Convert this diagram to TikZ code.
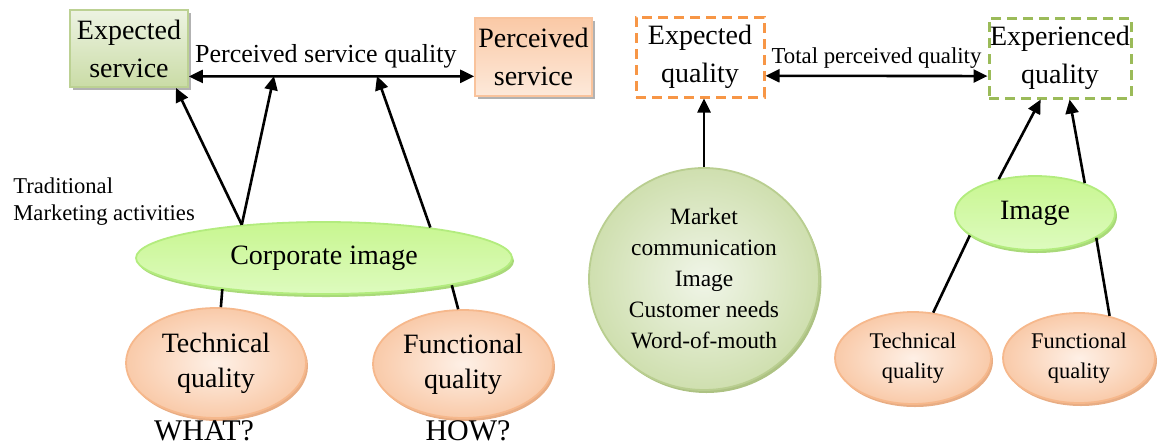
\documentclass[tikz,border=0pt]{standalone}
\usepackage{fontspec}
\setmainfont{Liberation Serif}
\usepackage{tikz}
\usetikzlibrary{positioning,arrows,arrows.meta}
\usetikzlibrary{shapes,shadows,calc}

\definecolor{boxgrnA}{HTML}{EDF3E2}
\definecolor{boxgrnB}{HTML}{CADCA6}
\definecolor{boxgrnL}{HTML}{BCD193}
\definecolor{boxorgA}{HTML}{FAC9A6}
\definecolor{boxorgB}{HTML}{FDE9DA}
\definecolor{boxorgL}{HTML}{F9C39C}
\definecolor{limeA}{HTML}{C8F690}
\definecolor{limeB}{HTML}{DDFBBE}
\definecolor{limeL}{HTML}{B3EC7E}
\definecolor{limeS}{HTML}{A9D979}
\definecolor{ovalA}{HTML}{FEF0E6}
\definecolor{ovalB}{HTML}{F9CAA9}
\definecolor{ovalL}{HTML}{F6B88C}
\definecolor{ovalS}{HTML}{E8AD84}
\definecolor{balA}{HTML}{F0F5E8}
\definecolor{balB}{HTML}{CFDFAF}
\definecolor{balL}{HTML}{B9CE90}
\definecolor{balS}{HTML}{ADC283}
\definecolor{dashorg}{HTML}{F79646}
\definecolor{dashgrn}{HTML}{9BBB59}

\newcommand\bigtxt{\fontsize{14}{19}\selectfont}
\newcommand\midtxt{\fontsize{11.7}{15.5}\selectfont}
\newcommand\smltxt{\fontsize{11.3}{13.5}\selectfont}

\begin{document}
\begin{tikzpicture}[x=0.5pt, y=-0.5pt,
  >={Triangle[length=7pt,width=6.5pt]},
  conn/.style={line width=1.3pt},
  softbox/.style={rectangle, inner sep=0pt, align=center, font=\bigtxt, line width=0.9pt,
    drop shadow={shadow xshift=1.3pt, shadow yshift=-1.3pt, fill=black!30, opacity=1}},
  greenbox/.style={softbox, draw=boxgrnL, top color=boxgrnA, bottom color=boxgrnB},
  orangebox/.style={softbox, draw=boxorgL, top color=boxorgA, bottom color=boxorgB},
  dashbox/.style={rectangle, inner sep=0pt, align=center, font=\bigtxt, line width=1.5pt,
    dash pattern=on 5pt off 3pt},
  limeoval/.style={ellipse, inner sep=0pt, align=center, draw=limeL, line width=0.9pt,
    top color=limeA, bottom color=limeB,
    drop shadow={shadow xshift=1pt, shadow yshift=-1.5pt, fill=limeS, opacity=1}},
  peachoval/.style={ellipse, inner sep=0pt, align=center, draw=ovalL, line width=0.9pt,
    inner color=ovalA, outer color=ovalB,
    drop shadow={shadow xshift=1pt, shadow yshift=-1.5pt, fill=ovalS, opacity=1}},
  ball/.style={ellipse, inner sep=0pt, align=center, draw=balL, line width=0.9pt,
    inner color=balA, outer color=balB,
    drop shadow={shadow xshift=1.2pt, shadow yshift=-1.5pt, fill=balS, opacity=1}}]

  \useasboundingbox (0,0) rectangle (1157,446);

  % service quality model
  \node[greenbox, minimum width=59pt, minimum height=38.5pt] (es) at (129,48.5) {Expected\\service};
  \node[orangebox, minimum width=58.5pt, minimum height=39pt] (ps) at (533.5,57) {Perceived\\service};
  \node[limeoval, minimum width=188pt, minimum height=36pt, font=\bigtxt] (ci) at (324,258) {Corporate image};
  \node[peachoval, minimum width=90pt, minimum height=55pt, font=\fontsize{14}{17.5}\selectfont] (tq) at (216,363) {Technical\\quality};
  \node[peachoval, minimum width=90pt, minimum height=54pt, font=\fontsize{14}{17.5}\selectfont] (fq) at (463,364) {Functional\\quality};
  \node[anchor=west, align=left, inner sep=0pt, font=\smltxt] (trad) at (13,202) {Traditional\\Marketing activities};
  \node[anchor=base, inner sep=0pt, font=\fontsize{15}{18}\selectfont] (what) at (204,440) {WHAT?};
  \node[anchor=base, inner sep=0pt, font=\fontsize{15}{18}\selectfont] (how) at (468,440) {HOW?};
  \coordinate (hit1) at (274,76);
  \coordinate (hit2) at (377,76);

  \draw[conn,<->] (es.-25) -- node[pos=0.48, above=3.6pt, inner sep=0pt, font=\fontsize{13}{15}\selectfont] (psq) {Perceived service quality} (ps.198);
  \draw[conn,->] (ci.158) -- (es.-40);
  \draw[conn,->] (ci.158) -- (hit1);
  \draw[conn,->] (ci.16) -- (hit2);
  \draw[conn] (ci.197) -- (tq.85);
  \draw[conn] (ci.-12) -- (fq.95);

  % total perceived quality
  \node[dashbox, draw=dashorg, minimum width=64pt, minimum height=40pt] (eq) at (700,57) {Expected\\quality};
  \node[dashbox, draw=dashgrn, minimum width=71pt, minimum height=40pt] (xq) at (1060,58) {Experienced\\quality};
  \node[ball, minimum width=115pt, minimum height=111pt, font=\midtxt] (mc) at (704,279) {Market\\communication\\Image\\Customer needs\\Word-of-mouth};
  \node[limeoval, minimum width=80pt, minimum height=37pt, font=\bigtxt] (im) at (1035,213) {Image};
  \node[peachoval, minimum width=78pt, minimum height=46pt, font=\fontsize{11.2}{15}\selectfont] (tq2) at (913,358) {Technical\\quality};
  \node[peachoval, minimum width=76pt, minimum height=45pt, font=\fontsize{11.2}{15}\selectfont] (fq2) at (1079,358) {Functional\\quality};

  \draw[conn,<->] (eq.-16.5) -- node[above=3pt, inner sep=0pt, font=\fontsize{11.4}{13}\selectfont] (tpq) {Total perceived quality} (xq.194);
  \draw[conn,->] (mc.north) -- (mc.north |- eq.south);
  \draw[conn,->] (im.137) -- (xq.245);
  \draw[conn,->] (im.31) -- (xq.-77);
  \draw[conn] (im.199) -- (tq2.66);
  \draw[conn] (im.-22) -- (fq2.54);
\end{tikzpicture}
\end{document}
